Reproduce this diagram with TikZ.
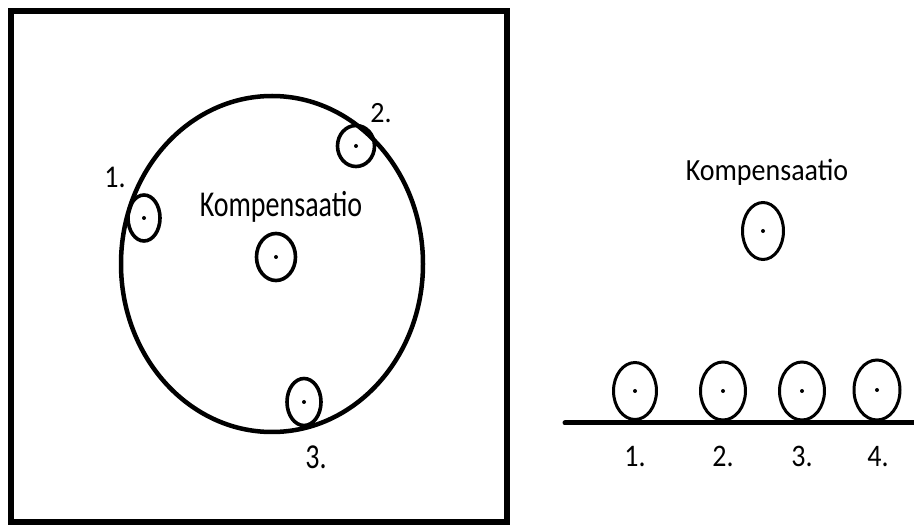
\documentclass[tikz,border=0pt]{standalone}
\usepackage{fontspec}
\usepackage{graphicx}
\setmainfont{Carlito}
\usetikzlibrary{shapes.geometric}
\tikzset{
  wheel/.style={draw, ellipse, line width=3.6pt, inner sep=0pt},
  hub/.style={fill, circle, inner sep=0pt, minimum size=4pt},
  lbl/.style={anchor=base, inner sep=0pt, font=\fontsize{28}{30}\selectfont},
}
\begin{document}
\begin{tikzpicture}[x=1pt,y=-1pt]
\useasboundingbox (0,0) rectangle (914,529);
\fill[white] (0,0) rectangle (914,529);
% left panel
\node[draw, line width=5.5pt, minimum width=496pt, minimum height=511pt, inner sep=0pt] (frame) at (259,266.5) {};
\node[draw, ellipse, line width=4.5pt, minimum width=302pt, minimum height=336pt, inner sep=0pt] (ring) at (272,264) {};
\node[wheel, minimum width=32pt, minimum height=46pt] (l1) at (144,218) {};
\node[wheel, minimum width=37pt, minimum height=41pt] (l2) at (356,146) {};
\node[wheel, minimum width=39pt, minimum height=47pt] (lc) at (276,257) {};
\node[wheel, minimum width=34pt, minimum height=47pt] (l3) at (304,402) {};
\foreach \n in {l1,l2,lc,l3} \node[hub] at (\n.center) {};
\node[lbl] (tl) at (281,216.5) {\scalebox{1}[1.3]{Kompensaatio}};
\node[lbl] (n1) at (115,188) {\scalebox{1}[1.13]{1.}};
\node[lbl] (n2) at (381,123) {\scalebox{1}[1.05]{2.}};
\node[lbl] (n3) at (316,468) {\scalebox{1}[1.25]{3.}};
% right panel
\coordinate (g0) at (565,423);
\coordinate (g1) at (916,423);
\draw[line width=5pt, line cap=round] (g0) -- (g1);
\node[wheel, line width=3pt, minimum width=41pt, minimum height=57pt] (rc) at (763,231) {};
\node[wheel, line width=3pt, minimum width=43pt, minimum height=57pt] (r1) at (635,391) {};
\node[wheel, line width=3pt, minimum width=45pt, minimum height=58pt] (r2) at (723,391) {};
\node[wheel, line width=3pt, minimum width=45pt, minimum height=58pt] (r3) at (802,391) {};
\node[wheel, line width=3pt, minimum width=46pt, minimum height=60pt] (r4) at (877,390) {};
\foreach \n in {rc,r1,r2,r3,r4} \node[hub] at (\n.center) {};
\node[lbl] (tr) at (767,180.5) {\scalebox{1}[1.1]{Kompensaatio}};
\node[lbl] (m1) at (635,467) {\scalebox{1}[1.12]{1.}};
\node[lbl] (m2) at (723,467) {\scalebox{1}[1.12]{2.}};
\node[lbl] (m3) at (802,467) {\scalebox{1}[1.12]{3.}};
\node[lbl] (m4) at (878,467) {\scalebox{1}[1.12]{4.}};
\end{tikzpicture}
\end{document}
